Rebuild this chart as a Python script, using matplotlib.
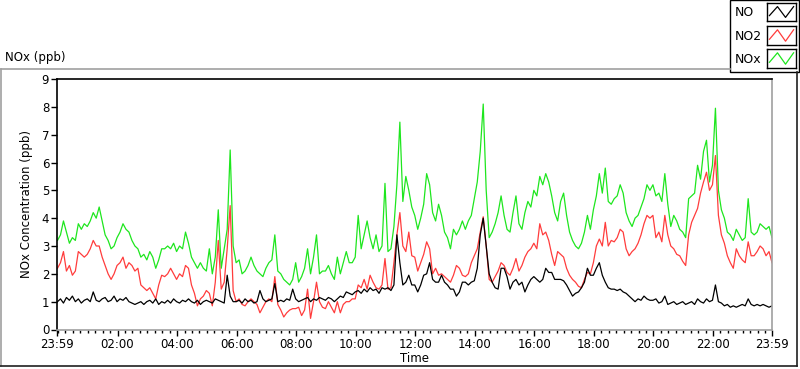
import numpy as np
import matplotlib.pyplot as plt
from matplotlib.lines import Line2D
from matplotlib.patches import Rectangle

# NOx readings every 6 minutes, starting 23:59 (values in ppb)
minutes = np.arange(0, 1441, 6)

no_ppb = [
    1.0, 1.1, 0.95, 1.15, 1.05, 1.2, 1.0, 1.1, 0.95, 1.05,
    1.1, 1.0, 1.35, 1.05, 1.0, 1.1, 1.15, 1.0, 1.05, 1.2,
    1.0, 1.1, 1.05, 1.15, 1.0, 0.95, 0.9, 0.95, 1.0, 0.9,
    1.0, 1.05, 0.95, 1.1, 0.9, 1.0, 0.95, 1.05, 0.95, 1.1,
    1.0, 0.95, 1.05, 1.0, 1.1, 1.0, 0.95, 1.05, 0.9, 1.0,
    1.05, 1.0, 0.95, 1.1, 1.05, 1.0, 0.95, 1.95, 1.2, 1.0,
    1.0, 1.05, 0.95, 1.1, 1.0, 1.05, 0.95, 1.0, 1.4, 1.1,
    1.0, 1.05, 1.1, 1.65, 1.0, 1.05, 1.0, 1.1, 1.05, 1.45,
    1.1, 1.0, 1.05, 1.1, 1.15, 1.0, 1.1, 1.05, 1.15, 1.1,
    1.05, 1.15, 1.1, 1.0, 1.1, 1.2, 1.15, 1.35, 1.3, 1.25,
    1.35, 1.4, 1.3, 1.45, 1.35, 1.5, 1.4, 1.45, 1.3, 1.5,
    1.45, 1.5, 1.4, 1.6, 3.4, 2.4, 1.6, 1.7, 1.95, 1.6,
    1.6, 1.35, 1.6, 1.95, 2.0, 2.4, 1.8, 1.7, 1.7, 1.95,
    1.7, 1.6, 1.45, 1.45, 1.2, 1.35, 1.7, 1.7, 1.6, 1.7,
    1.75, 2.2, 3.4, 4.0, 3.0, 2.0, 1.7, 1.5, 1.45, 2.2,
    2.2, 1.9, 1.45, 1.7, 1.8, 1.6, 1.7, 1.35, 1.6, 1.8,
    1.9, 1.8, 1.7, 1.8, 2.2, 2.05, 2.05, 1.8, 1.8, 1.8,
    1.75, 1.6, 1.4, 1.2, 1.3, 1.35, 1.5, 1.7, 2.2, 1.95,
    1.95, 2.2, 2.4, 1.95, 1.7, 1.5, 1.45, 1.45, 1.4, 1.45,
    1.35, 1.3, 1.2, 1.1, 1.0, 1.1, 1.05, 1.2, 1.1, 1.05,
    1.05, 1.1, 0.95, 1.0, 1.2, 0.9, 0.95, 1.0, 0.9, 0.95,
    1.0, 0.9, 0.95, 1.0, 0.9, 1.1, 1.0, 0.95, 1.1, 1.0,
    1.05, 1.6, 1.0, 0.95, 0.85, 0.9, 0.8, 0.85, 0.8, 0.85,
    0.9, 0.85, 1.1, 0.9, 0.85, 0.9, 0.85, 0.9, 0.85, 0.8,
    0.85,
]

no2_ppb = [
    2.2, 2.4, 2.8, 2.1, 2.3, 1.95, 2.1, 2.8, 2.7, 2.6,
    2.7, 2.9, 3.2, 3.0, 3.0, 2.6, 2.3, 2.0, 1.8, 2.0,
    2.3, 2.4, 2.6, 2.2, 2.4, 2.3, 2.1, 2.2, 1.6, 1.5,
    1.4, 1.5, 1.3, 1.1, 1.6, 1.95, 1.9, 2.0, 2.2, 2.0,
    1.8, 2.0, 1.9, 2.3, 2.2, 1.6, 1.3, 0.85, 1.1, 1.2,
    1.4, 1.3, 0.85, 1.7, 3.2, 1.45, 1.7, 2.9, 4.45, 1.4,
    1.0, 1.1, 0.9, 0.85, 1.0, 1.1, 1.0, 0.9, 0.6, 0.8,
    1.0, 1.1, 1.0, 1.9, 0.9, 0.7, 0.45, 0.6, 0.7, 0.75,
    0.75, 0.8, 0.5, 0.7, 1.45, 0.4, 1.0, 1.7, 1.0, 0.8,
    0.75, 1.0, 0.8, 0.6, 1.0, 0.6, 0.9, 1.0, 1.0, 1.1,
    1.1, 1.6, 1.5, 1.8, 1.45, 1.95, 1.7, 1.5, 1.45, 1.6,
    2.55, 1.45, 1.5, 2.4, 3.4, 4.2, 3.0, 2.8, 3.5, 2.65,
    2.6, 2.1, 2.4, 2.7, 3.15, 2.9, 2.0, 2.2, 1.95, 2.0,
    1.9, 1.8, 1.7, 1.95, 2.3, 2.2, 1.95, 1.9, 2.0, 2.4,
    2.65, 2.9, 3.5, 4.05, 3.0, 1.8, 1.7, 1.9, 2.1, 2.4,
    2.3, 2.05, 1.95, 2.2, 2.55, 2.1, 2.3, 2.6, 2.8, 2.9,
    3.1, 2.9, 3.8, 3.4, 3.5, 3.2, 2.7, 2.3, 2.8, 2.7,
    2.6, 2.2, 1.95, 1.8, 1.7, 1.55, 1.5, 1.8, 2.05, 2.0,
    2.4, 3.0, 3.25, 3.0, 3.85, 3.0, 3.2, 3.15, 3.3, 3.6,
    3.5, 2.9, 2.65, 2.8, 2.9, 3.1, 3.4, 3.8, 4.1, 4.0,
    4.1, 3.3, 3.5, 3.15, 4.1, 3.4, 3.0, 2.9, 2.7, 2.65,
    2.45, 2.3, 3.4, 3.85, 4.1, 4.35, 4.9, 5.3, 5.65, 5.0,
    5.2, 6.25, 4.1, 3.4, 3.1, 2.65, 2.4, 2.2, 2.9, 2.65,
    2.5, 2.4, 3.15, 2.65, 2.65, 2.8, 3.0, 2.9, 2.65, 2.8,
    2.4,
]

nox_ppb = [
    3.2, 3.4, 3.9, 3.5, 3.1, 3.3, 3.2, 3.8, 3.6, 3.8,
    3.7, 3.9, 4.2, 4.0, 4.4, 3.9, 3.4, 3.2, 2.9, 3.0,
    3.3, 3.5, 3.8, 3.6, 3.5, 3.2, 3.0, 2.9, 2.6, 2.7,
    2.5, 2.8, 2.6, 2.2, 2.5, 2.9, 2.9, 3.0, 2.9, 3.1,
    2.8, 3.0, 2.9, 3.5, 3.1, 2.6, 2.4, 2.2, 2.4, 2.2,
    2.1, 2.9, 2.0, 2.6, 4.3, 2.2, 2.9, 3.6, 6.45, 3.0,
    2.4, 2.5, 2.0, 2.1, 2.3, 2.6, 2.3, 2.1, 2.0, 1.9,
    2.2, 2.4, 2.5, 3.4, 2.1, 2.0, 1.8, 1.7, 1.6, 1.8,
    2.4, 1.7, 1.9, 2.2, 2.9, 2.0, 2.6, 3.4, 2.0, 2.1,
    2.1, 2.3, 2.0, 1.8, 2.6, 2.0, 2.4, 2.8, 2.4, 2.4,
    2.6, 4.1, 2.9, 3.4, 3.9, 3.3, 2.9, 3.4, 2.8, 3.0,
    5.25, 2.8, 2.9, 3.7, 5.2, 7.45, 4.6, 5.5, 5.0, 4.4,
    4.1, 3.6, 4.0, 4.5, 5.6, 5.2, 4.2, 3.9, 4.5, 4.1,
    3.5, 3.3, 2.9, 3.6, 3.4, 3.6, 3.9, 3.6, 3.9, 4.1,
    4.7, 5.3, 6.4, 8.1, 5.0, 3.3, 3.5, 3.8, 4.2, 4.8,
    4.1, 3.6, 3.5, 4.2, 4.8, 3.8, 3.6, 4.2, 4.6, 4.4,
    5.0, 4.8, 5.5, 5.2, 5.6, 5.3, 4.8, 4.2, 3.9, 4.6,
    4.9, 4.1, 3.5, 3.2, 3.0, 2.9, 3.1, 3.5, 4.1, 3.6,
    4.3, 4.8, 5.6, 4.9, 5.8, 4.6, 4.5, 4.7, 4.8, 5.2,
    4.9, 4.2, 3.9, 3.7, 4.0, 4.1, 4.4, 4.7, 5.2, 5.0,
    5.2, 4.8, 4.9, 4.6, 5.6, 4.5, 3.7, 4.1, 3.9, 3.6,
    3.5, 3.3, 4.7, 4.8, 4.9, 5.9, 5.4, 6.4, 6.8, 5.3,
    5.9, 7.95, 5.0, 4.3, 4.0, 3.5, 3.4, 3.2, 3.6, 3.4,
    3.2, 3.3, 4.7, 3.5, 3.4, 3.5, 3.8, 3.7, 3.6, 3.7,
    3.3,
]

series_names = ["NO", "NO2", "NOx"]
series_colors = ["#000000", "#ff3c3c", "#1ee61e"]

tick_minutes = [0, 121, 241, 361, 481, 601, 721, 841, 961, 1081, 1201, 1321, 1440]
tick_labels = ["23:59", "02:00", "04:00", "06:00", "08:00", "10:00", "12:00",
               "14:00", "16:00", "18:00", "20:00", "22:00", "23:59"]

W, H = 800, 369


def fx(px):
    return px / W


def fy(py):
    return 1 - py / H


def main():
    plt.rcParams['font.family'] = ['DejaVu Sans']
    fig = plt.figure(figsize=(8, 3.69), dpi=100)

    # outer panel frame (light top/left, dark bottom/right)
    fig.add_artist(Line2D([fx(1), fx(730)], [fy(69), fy(69)], color="#a0a0a0", lw=1.2))
    fig.add_artist(Line2D([fx(1), fx(1)], [fy(69), fy(366)], color="#a0a0a0", lw=1.2))
    fig.add_artist(Line2D([fx(0), fx(797)], [fy(366), fy(366)], color="#202020", lw=1.2))
    fig.add_artist(Line2D([fx(797), fx(797)], [fy(72), fy(366)], color="#202020", lw=1.2))

    fig.text(fx(5), fy(57), "NOx (ppb)", fontsize=8.5, va="center", ha="left")

    ax = fig.add_axes([fx(57.5), fy(329.5), fx(772) - fx(57.5), fy(79) - fy(329.5)])
    ax.plot(minutes, nox_ppb, color=series_colors[2], lw=0.9)
    ax.plot(minutes, no2_ppb, color=series_colors[1], lw=0.9)
    ax.plot(minutes, no_ppb, color=series_colors[0], lw=0.9)

    ax.set_xlim(0, 1440)
    ax.set_ylim(0, 9)
    ax.set_yticks(range(0, 10))
    ax.set_xticks(tick_minutes)
    ax.set_xticklabels(tick_labels)
    minor = [m for m in range(1, 1440, 15) if m not in tick_minutes]
    ax.set_xticks(minor, minor=True)
    ax.tick_params(axis="both", which="major", direction="out", length=4, width=1,
                   labelsize=8.5, pad=2)
    ax.tick_params(axis="x", which="minor", direction="out", length=2.5, width=1)
    ax.set_xlabel("Time", fontsize=8.5, labelpad=1)
    ax.set_ylabel("NOx Concentration (ppb)", fontsize=8.5, labelpad=6)

    ax.spines["left"].set_color("black")
    ax.spines["top"].set_color("black")
    ax.spines["right"].set_color("#a0a0a0")
    ax.spines["bottom"].set_color("#a0a0a0")
    for s in ax.spines.values():
        s.set_linewidth(1.2)

    # legend panel at top right (drawn beneath the swatch axes)
    fig.add_artist(Rectangle((fx(730), fy(72)), fx(799) - fx(730), fy(0) - fy(72),
                             transform=fig.transFigure, facecolor="white",
                             edgecolor="black", lw=1.0, zorder=-1))
    rows = [(3, 21), (26, 45), (49, 68)]
    for (top, bot), name, col in zip(rows, series_names, series_colors):
        fig.text(fx(735), fy((top + bot) / 2 + 1), name, fontsize=9,
                 va="center", ha="left")
        sw = fig.add_axes([fx(767), fy(bot), fx(796) - fx(767), fy(top) - fy(bot)],
                          zorder=2)
        sw.plot([0, 1, 2, 3], [0.3, 0.8, 0.2, 0.8], color=col, lw=0.9)
        sw.set_xlim(-0.3, 3.3)
        sw.set_ylim(0, 1)
        sw.set_xticks([])
        sw.set_yticks([])
        for s in sw.spines.values():
            s.set_color("black")
            s.set_linewidth(1.0)

    fig.savefig("out.png", dpi=100)


if __name__ == "__main__":
    main()
